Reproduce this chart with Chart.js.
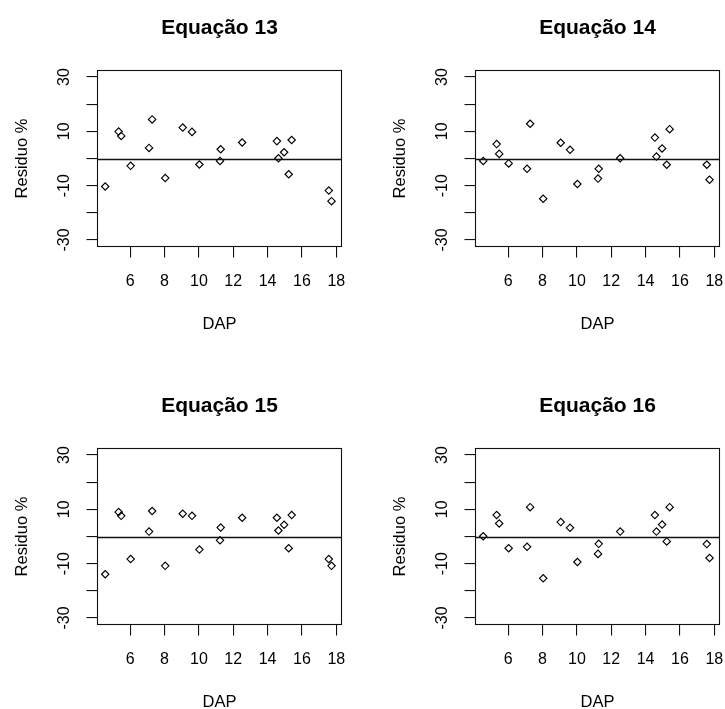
<!DOCTYPE html>
<html>
<head>
  <meta name="viewport" content="width=device-width, initial-scale=1.0">
  <title>Residuos - Equações 13 a 16</title>
  <script src="https://cdn.jsdelivr.net/npm/chart.js"></script>
  <style>
    body {
      margin: 0;
      padding: 0;
      background: #fff;
      width: 725px;
      height: 709px;
      overflow: hidden;
      position: relative;
    }
    canvas {
      position: absolute;
      display: block;
    }
  </style>
</head>
<body>
  <canvas id="eq13" width="378" height="378" style="left:0;top:0"></canvas>
  <canvas id="eq14" width="378" height="378" style="left:378px;top:0"></canvas>
  <canvas id="eq15" width="378" height="378" style="left:0;top:378px"></canvas>
  <canvas id="eq16" width="378" height="378" style="left:378px;top:378px"></canvas>

  <script>
    // dados: DAP (x) e residuo % de cada equacao
    const dap = [4.55, 5.33, 5.48, 6.03, 7.10, 7.28, 8.04, 9.06, 9.60, 10.03,
                 11.27, 11.23, 12.52, 14.54, 14.63, 14.96, 15.40, 15.23, 17.56, 17.72];

    const residuo13 = [-10.3, 9.9, 8.3, -2.7, 3.9, 14.4, -7.2, 11.4, 9.8, -2.2,
                       3.4, -0.9, 5.9, 6.4, 0.1, 2.3, 6.8, -5.8, -11.8, -15.7];
    const residuo14 = [-0.9, 5.3, 1.7, -1.8, -3.8, 12.8, -14.8, 5.8, 3.2, -9.4,
                       -3.8, -7.4, 0.1, 7.7, 0.7, 3.7, 10.8, -2.3, -2.3, -7.8];
    const residuo15 = [-13.9, 9.0, 7.6, -8.3, 1.8, 9.4, -10.8, 8.4, 7.6, -4.8,
                       3.3, -1.4, 6.9, 6.9, 2.2, 4.3, 7.9, -4.3, -8.3, -10.8];
    const residuo16 = [0.1, 7.9, 4.8, -4.3, -3.8, 10.8, -15.4, 5.3, 3.2, -9.4,
                       -2.7, -6.4, 1.8, 7.9, 1.8, 4.4, 10.8, -1.8, -2.8, -7.9];

    const titulos = ['Equação 13', 'Equação 14', 'Equação 15', 'Equação 16'];
    const series = [residuo13, residuo14, residuo15, residuo16];
    const canvasIds = ['eq13', 'eq14', 'eq15', 'eq16'];

    const xTicks = [6, 8, 10, 12, 14, 16, 18];
    const yTicks = [-30, -20, -10, 0, 10, 20, 30];
    const yLabels = [-30, -10, 10, 30];   // R so escreve estes
    const xMin = 4.1, xMax = 18.3;
    const yMin = -32.4, yMax = 32.4;
    const refLine = 0;

    const fonte = '"Liberation Sans", Arial, Helvetica, sans-serif';
    Chart.defaults.color = '#000';
    Chart.defaults.font.family = fonte;

    // moldura da area do grafico + abline(h = 0)
    const moldura = {
      id: 'moldura',
      afterDatasetsDraw(chart) {
        const { ctx, chartArea: a, scales: { y } } = chart;
        ctx.save();
        ctx.strokeStyle = '#111';
        ctx.lineWidth = 1.1;
        ctx.strokeRect(a.left, a.top, a.right - a.left, a.bottom - a.top);
        const y0 = Math.round(y.getPixelForValue(refLine)) + 0.5;
        ctx.lineWidth = 1.3;
        ctx.beginPath();
        ctx.moveTo(a.left, y0);
        ctx.lineTo(a.right, y0);
        ctx.stroke();
        ctx.restore();
      }
    };

    function makeChart(id, titulo, valores) {
      const ctx = document.getElementById(id).getContext('2d');
      return new Chart(ctx, {
        type: 'scatter',
        data: {
          datasets: [{
            data: dap.map((x, i) => ({ x: x, y: valores[i] })),
            pointStyle: 'rectRot',
            pointRadius: 3.7,
            pointBorderWidth: 1.15,
            pointBorderColor: '#000',
            pointBackgroundColor: 'rgba(0,0,0,0)'
          }]
        },
        options: {
          responsive: false,
          animation: false,
          events: [],
          layout: { padding: { left: 0, top: 0, right: 36.5, bottom: 0 } },
          plugins: {
            legend: { display: false },
            tooltip: { enabled: false },
            title: {
              display: true,
              text: titulo,
              fullSize: false,
              color: '#000',
              font: { size: 21, weight: 'bold', family: fonte },
              padding: { top: 15.7, bottom: 29.6 }
            }
          },
          scales: {
            x: {
              type: 'linear',
              min: xMin,
              max: xMax,
              afterBuildTicks: s => { s.ticks = xTicks.map(v => ({ value: v })); },
              afterFit: s => { s.height = 131.5; },
              border: { display: false },
              grid: { drawOnChartArea: false, drawTicks: true, tickLength: 11, color: '#111', lineWidth: 1.1 },
              ticks: { font: { size: 16 }, padding: 14.1, maxRotation: 0, autoSkip: false },
              title: { display: true, text: 'DAP', font: { size: 16.5 }, padding: { top: 0, bottom: 43.4 } }
            },
            y: {
              type: 'linear',
              min: yMin,
              max: yMax,
              afterBuildTicks: s => { s.ticks = yTicks.map(v => ({ value: v })); },
              afterFit: s => { s.width = 97.5; },
              border: { display: false },
              grid: { drawOnChartArea: false, drawTicks: true, tickLength: 11, color: '#111', lineWidth: 1.1 },
              ticks: {
                font: { size: 16 },
                padding: 10.1,
                minRotation: 90,
                maxRotation: 90,
                crossAlign: 'center',
                autoSkip: false,
                callback: v => yLabels.includes(v) ? String(v) : ''
              },
              title: { display: true, text: 'Residuo %', font: { size: 16.5 }, padding: { top: 12.1, bottom: 0 } }
            }
          }
        },
        plugins: [moldura]
      });
    }

    canvasIds.forEach((id, i) => makeChart(id, titulos[i], series[i]));
  </script>
</body>
</html>
